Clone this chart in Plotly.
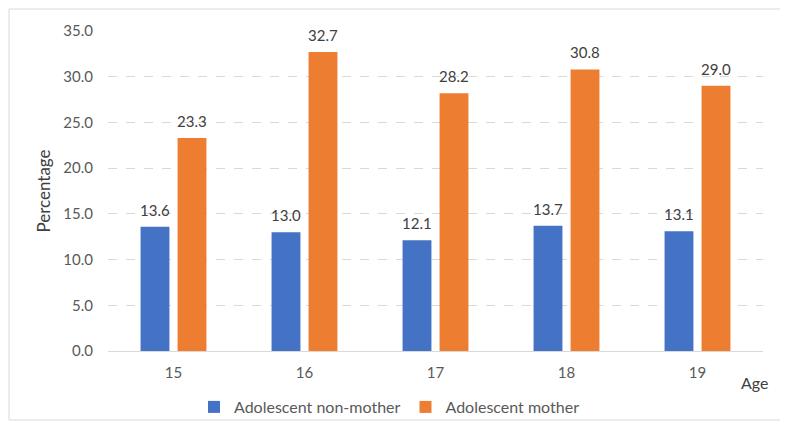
import plotly.graph_objects as go

ages = ["15", "16", "17", "18", "19"]
non_mother = [13.6, 13.0, 12.1, 13.7, 13.1]
mother = [23.3, 32.7, 28.2, 30.8, 29.0]
y_ticks = [0, 5, 10, 15, 20, 25, 30, 35]

W, H = 788, 428
OFF = 8  # page body margin
# plot area in screen pixels
SX0, SX1, SY0, SY1 = 108, 763, 31, 351
L, T = SX0 - OFF, SY0 - OFF
R, B = W - (SX1 - OFF), H - (SY1 - OFF)
pw, ph = W - L - R, H - T - B

FONT = "Lato, Carlito, Calibri, sans-serif"

fig = go.Figure()
fig.add_bar(x=ages, y=non_mother, name="Adolescent non-mother",
            marker=dict(color="#4472C4", line=dict(width=0)))
fig.add_bar(x=ages, y=mother, name="Adolescent mother",
            marker=dict(color="#ED7D31", line=dict(width=0)))

def px_x(p):
    return (p - OFF - L) / pw
def px_y(p):
    return (H - B - (p - OFF)) / ph

annotations = []
for series, shift in ((non_mother, -18.5), (mother, 18.5)):
    for i, v in enumerate(series):
        annotations.append(dict(x=i, y=v, xref="x", yref="y", text=f"{v:.1f}",
                                showarrow=False, xanchor="center", yanchor="bottom",
                                xshift=shift, yshift=6,
                                font=dict(size=15, color="#404040", family=FONT)))
annotations.append(dict(text="Age", xref="paper", yref="paper", x=px_x(754), y=px_y(382),
                        xanchor="center", yanchor="middle", showarrow=False,
                        font=dict(size=16, color="#404040")))

fig.update_layout(
    width=W, height=H,
    margin=dict(l=L, r=R, t=T, b=B, autoexpand=False),
    paper_bgcolor="white", plot_bgcolor="white",
    barmode="group", bargap=0.435, bargroupgap=0.22,
    font=dict(family=FONT, size=15, color="#595959"),
    xaxis=dict(type="category", showline=True, linecolor="#D9D9D9", linewidth=1, ticks="",
               tickfont=dict(size=15, color="#595959"), showgrid=False, automargin=False,
               ticklabelstandoff=8),
    yaxis=dict(range=[0, 35], tickvals=y_ticks, ticktext=[f"{v:.1f}" for v in y_ticks],
               showgrid=True, gridcolor="#D9D9D9", griddash="dash", gridwidth=1,
               zeroline=False, showline=False, ticks="", ticklabelstandoff=14,
               tickfont=dict(size=15, color="#595959"), automargin=False,
               title=dict(text="Percentage", font=dict(size=17, color="#404040"), standoff=8)),
    showlegend=True,
    legend=dict(orientation="h", x=px_x(194), xanchor="left", y=px_y(407), yanchor="middle",
                font=dict(size=16, color="#595959"), itemwidth=30, bgcolor="rgba(0,0,0,0)",
                traceorder="normal"),
    shapes=[dict(type="rect", xref="paper", yref="paper",
                 x0=px_x(9), x1=px_x(782), y0=px_y(420), y1=px_y(9),
                 line=dict(color="#D9D9D9", width=1), fillcolor="rgba(0,0,0,0)", layer="below")],
    annotations=annotations,
)

fig.write_html("out.html")
